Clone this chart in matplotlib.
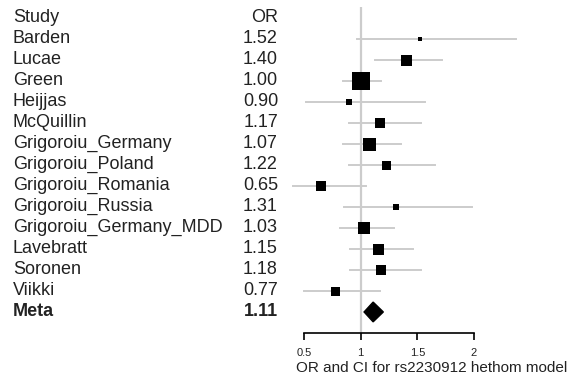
import matplotlib.pyplot as plt
import matplotlib.transforms as mtransforms

studies = ['Barden', 'Lucae', 'Green', 'Heijjas', 'McQuillin', 'Grigoroiu_Germany',
           'Grigoroiu_Poland', 'Grigoroiu_Romania', 'Grigoroiu_Russia',
           'Grigoroiu_Germany_MDD', 'Lavebratt', 'Soronen', 'Viikki']
odds_ratio = [1.52, 1.40, 1.00, 0.90, 1.17, 1.07, 1.22, 0.65, 1.31, 1.03, 1.15, 1.18, 0.77]
ci_low = [0.97, 1.13, 0.84, 0.52, 0.90, 0.84, 0.90, 0.40, 0.85, 0.82, 0.91, 0.91, 0.50]
ci_high = [2.37, 1.72, 1.18, 1.57, 1.53, 1.36, 1.66, 1.05, 1.98, 1.29, 1.46, 1.53, 1.17]
# relative box size (study weight)
weights = [4, 11, 18, 6, 10, 13, 9, 10, 6, 12, 11, 10, 9]

meta_or = 1.11
meta_low = 1.03
meta_high = 1.20

xticks = [0.5, 1, 1.5, 2]
xtick_labels = ['0.5', '1', '1.5', '2']

W, H = 571, 381
plt.rcParams['font.family'] = ['Liberation Sans', 'DejaVu Sans']
fig = plt.figure(figsize=(W / 100, H / 100), dpi=100)

left_px, right_px = 304, 474
top_px, bottom_px = 7, 333
ax = fig.add_axes([left_px / W, 1 - bottom_px / H,
                   (right_px - left_px) / W, (bottom_px - top_px) / H])
ax.set_xlim(0.5, 2)
ax.set_ylim(15, -0.5)

text_col = '#222222'
line_col = '#cccccc'
fs = 13

# text columns: x in figure pixels, y in row units
trans = mtransforms.blended_transform_factory(fig.transFigure, ax.transData)
name_x = 13 / W
or_x = 278 / W

ax.axvline(1, color=line_col, lw=1.6, zorder=1)

ax.text(name_x, 0, 'Study', fontsize=fs, color=text_col, va='center', ha='left', transform=trans)
ax.text(or_x, 0, 'OR', fontsize=fs, color=text_col, va='center', ha='right', transform=trans)

for i, (name, o, lo, hi, w) in enumerate(zip(studies, odds_ratio, ci_low, ci_high, weights)):
    y = i + 1
    ax.plot([lo, hi], [y, y], color=line_col, lw=1.4, clip_on=False, zorder=2)
    ax.plot([o], [y], marker='s', markersize=w * 72 / 100, color='black',
            mew=0, clip_on=False, zorder=3)
    ax.text(name_x, y, name, fontsize=fs, color=text_col, va='center', ha='left', transform=trans)
    ax.text(or_x, y, f'{o:.2f}', fontsize=fs, color=text_col, va='center', ha='right',
            transform=trans)

# meta row
ym = len(studies) + 1
ax.text(name_x, ym, 'Meta', fontsize=fs, color=text_col, va='center', ha='left',
        fontweight='bold', transform=trans)
ax.text(or_x, ym, f'{meta_or:.2f}', fontsize=fs, color=text_col, va='center', ha='right',
        fontweight='bold', transform=trans)
ax.fill([meta_low, meta_or, meta_high, meta_or], [ym, ym - 0.47, ym, ym + 0.47],
        color='black', zorder=3, clip_on=False)

for s in ['top', 'right', 'left']:
    ax.spines[s].set_visible(False)
ax.spines['bottom'].set_linewidth(1.2)
ax.set_yticks([])
ax.set_xticks(xticks)
ax.set_xticklabels(xtick_labels, fontsize=8, color=text_col)
ax.tick_params(axis='x', length=5, width=1.2, pad=6)

fig.text(432 / W, 1 - 368 / H, 'OR and CI for rs2230912 hethom model', fontsize=11,
         color=text_col, ha='center', va='center')

fig.savefig('out.png', dpi=100)
